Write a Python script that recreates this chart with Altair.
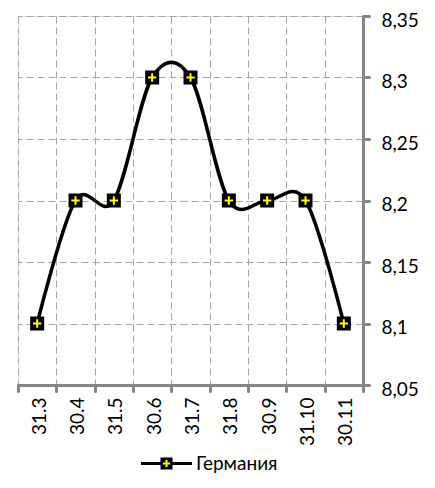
import altair as alt
import pandas as pd

categories = ["31.3", "30.4", "31.5", "30.6", "31.7", "31.8", "30.9", "31.10", "30.11"]
values = [8.1, 8.2, 8.2, 8.3, 8.3, 8.2, 8.2, 8.2, 8.1]
series_name = "Германия"
y_ticks = [8.05, 8.1, 8.15, 8.2, 8.25, 8.3, 8.35]

df = pd.DataFrame({"date": categories, "value": values, "series": [series_name] * len(values)})

FONT = "Lato"
AX = "#868686"
GRID = "#a6a6a6"

x_enc = alt.X(
    "date:N",
    sort=categories,
    bandPosition=0.5,
    scale=alt.Scale(type="band", domain=categories, paddingInner=0, paddingOuter=0),
    axis=alt.Axis(
        title=None, tickBand="extent", grid=True, gridDash=[7, 4], gridColor=GRID, gridWidth=1,
        domainColor=AX, domainWidth=3, domainCap="round", tickColor=AX, tickWidth=3, tickSize=6,
        tickCap="round", labelAngle=270, labelAlign="right", labelBaseline="middle",
        labelFont=FONT, labelFontSize=19, labelColor="black", labelPadding=6, labelOffset=2,
    ),
)
y_enc = alt.Y(
    "value:Q",
    scale=alt.Scale(domain=[8.05, 8.35], nice=False, zero=False),
    axis=alt.Axis(
        title=None, orient="right", values=y_ticks, grid=True, gridDash=[7, 4], gridColor=GRID,
        gridWidth=1, domainColor=AX, domainWidth=3, domainCap="round", tickColor=AX, tickWidth=3,
        tickSize=6, tickCap="round", labelFont=FONT, labelFontSize=19, labelColor="black",
        labelPadding=12, labelOffset=4,
        labelExpr="replace(format(datum.value, '.2~f'), '.', ',')",
    ),
)

LEG_X = 139
LEG_Y = 438
line_sym = "M-4.25,-0.25H4.25V0.25H-4.25Z M-1,-1H1V1H-1Z"
plus_sym = "M-0.6,0H0.6M0,-0.6V0.6"

base = alt.Chart(df)

line = base.mark_line(interpolate="cardinal", color="black", strokeWidth=3.5).encode(x=x_enc, y=y_enc)

squares = base.mark_point(shape="square", filled=True, size=196, opacity=1).encode(
    x=x_enc, y=y_enc,
    color=alt.Color(
        "series:N", scale=alt.Scale(range=["black"]),
        legend=alt.Legend(
            title=None, orient="none", legendX=LEG_X, legendY=LEG_Y, symbolType=line_sym,
            symbolSize=144, symbolStrokeWidth=0, symbolOpacity=1, labelFont=FONT, labelFontSize=19,
            labelColor="black", labelOffset=20, padding=0,
        ),
    ),
)

pluses = base.mark_point(shape=plus_sym, filled=False, size=196, strokeWidth=2, opacity=1).encode(
    x=x_enc, y=y_enc,
    stroke=alt.Stroke(
        "series:N", scale=alt.Scale(range=["#ffff00"]),
        legend=alt.Legend(
            title=None, orient="none", legendX=LEG_X, legendY=LEG_Y, symbolType=plus_sym,
            symbolSize=144, symbolStrokeWidth=2, symbolOpacity=1, labelFont=FONT, labelFontSize=19,
            labelColor="transparent", labelOffset=20, padding=0,
        ),
    ),
)

chart = (
    alt.layer(line, squares, pluses)
    .resolve_scale(color="independent", stroke="independent")
    .properties(
        width=345, height=369,
        autosize=alt.AutoSizeParams(type="none"),
        padding={"left": 10, "top": 8, "right": 62, "bottom": 91},
    )
    .configure_view(stroke=None)
    .configure(background="white")
)

chart.save("out.html", embed_options={"renderer": "svg", "actions": False})
